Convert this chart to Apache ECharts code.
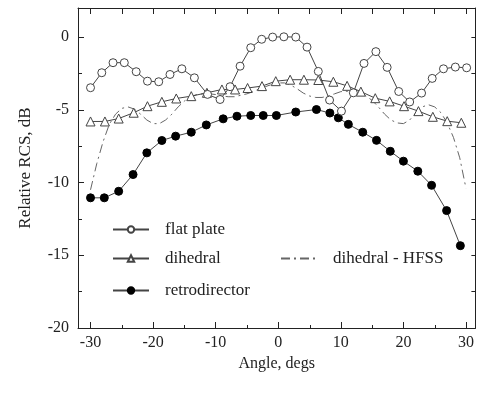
<!DOCTYPE html>
<html>
<head>
<meta charset="utf-8">
<script src="https://cdn.jsdelivr.net/npm/echarts@6/dist/echarts.min.js"></script>
<style>
html, body { margin: 0; padding: 0; background: #fff; }
#chart { width: 477px; height: 397px; }
</style>
</head>
<body>
<div id="chart"></div>
<script>
// flat plate (open circles)
var plateAngle = [-30, -28.2, -26.4, -24.6, -22.7, -20.9, -19.1, -17.3, -15.4, -13.4, -11.3, -9.3, -7.7, -6.1, -4.4, -2.65, -0.9,
	0.9, 2.8, 4.6, 6.4, 8.2, 10.1, 12.0, 13.7, 15.6, 17.4, 19.25, 21.0, 22.9, 24.6, 26.4, 28.3, 30.1];
var plateRcs = [-3.48, -2.45, -1.76, -1.76, -2.38, -3.03, -3.07, -2.57, -2.18, -2.8, -3.94, -4.29, -3.41, -2.0, -0.73, -0.15, 0,
	0.02, 0, -0.69, -2.36, -4.33, -5.09, -3.83, -1.81, -1.0, -2.08, -3.74, -4.46, -3.85, -2.84, -2.18, -2.06, -2.11];

// dihedral (open triangles)
var dihedralAngle = [-30, -27.7, -25.5, -23.1, -20.9, -18.6, -16.3, -13.9, -11.4, -9.0, -6.9, -4.9, -2.6, -0.4,
	1.9, 4.1, 6.4, 8.8, 11.0, 13.2, 15.5, 17.8, 20.1, 22.4, 24.7, 27.0, 29.25];
var dihedralRcs = [-5.8, -5.8, -5.6, -5.2, -4.75, -4.45, -4.22, -4.06, -3.83, -3.6, -3.6, -3.5, -3.37, -3.03,
	-2.93, -2.93, -2.95, -3.07, -3.35, -3.75, -4.2, -4.42, -4.75, -5.09, -5.48, -5.78, -5.89];

// dihedral - HFSS (dash-dot, no markers)
var hfssAngle = [-30, -29, -28, -27, -26, -25, -24, -23, -22, -21, -20, -19, -18, -17, -16, -15, -14, -13, -12, -11, -10,
	-9, -8, -7, -6, -5, -4, -3, -2, -1, 0, 1, 2, 3, 4, 5, 6, 7, 8, 9, 10,
	11, 12, 13, 14, 15, 16, 17, 18, 19, 20, 21, 22, 23, 24, 25, 26, 27, 28, 29, 30];
var hfssRcs = [-10.5, -8.7, -7.2, -6.0, -5.3, -4.9, -4.8, -4.95, -5.3, -5.7, -5.95, -5.95, -5.7, -5.3, -4.8, -4.4, -4.1, -3.95, -3.9, -3.9, -3.95,
	-4.05, -4.1, -4.1, -4.0, -3.9, -3.75, -3.55, -3.4, -3.25, -3.15, -3.15, -3.3, -3.55, -3.85, -4.05, -4.15, -4.15, -4.05, -3.9, -3.75,
	-3.72, -3.8, -3.9, -4.05, -4.35, -4.8, -5.3, -5.7, -5.9, -5.95, -5.7, -5.2, -4.8, -4.65, -4.8, -5.2, -5.9, -6.9, -8.3, -10.4];

// retrodirector (filled circles)
var retroAngle = [-30, -27.8, -25.5, -23.2, -21.0, -18.6, -16.4, -13.9, -11.5, -8.8, -6.6, -4.4, -2.4, -0.3,
	2.8, 6.1, 8.25, 9.6, 11.2, 13.5, 15.7, 17.9, 20.0, 22.3, 24.5, 26.9, 29.1];
var retroRcs = [-11.05, -11.05, -10.6, -9.45, -7.96, -7.11, -6.81, -6.54, -6.04, -5.62, -5.44, -5.39, -5.39, -5.39,
	-5.15, -4.98, -5.22, -5.55, -6.0, -6.54, -7.1, -7.85, -8.53, -9.22, -10.19, -11.93, -14.34];

// tick labels
var xMajorTicks = [-30, -20, -10, 0, 10, 20, 30];
var xMinorTicks = [-25, -15, -5, 5, 15, 25];
var yMajorTicks = [-20, -15, -10, -5, 0];
var yMinorTicks = [-17.5, -12.5, -7.5, -2.5];

var X_MIN = -32, X_MAX = 31.5, Y_MIN = -20, Y_MAX = 2;
var FONT = 'Liberation Serif';
var INK = '#222';
var LINE = '#444';

function pairs(xs, ys){
	var out = [];
	for(var i = 0; i < xs.length; i++){
		out.push([xs[i], ys[i]]);
	}
	return out;
}

var myChart = echarts.init(document.getElementById('chart'), null, {renderer: 'canvas'});

var gridBox = {left: 78, right: 1, top: 8, bottom: 69};

function legendAt(name, left, top, hideSymbol){
	var lg = {
		data: [name],
		left: left, top: top,
		orient: 'horizontal',
		padding: 0,
		itemWidth: 36, itemHeight: 8,
		textStyle: {fontFamily: FONT, fontSize: 17, color: INK, padding: [0, 0, 0, 11]},
		selectedMode: false
	};
	// the dash-dot line has no marker, so hide the legend symbol
	if(hideSymbol){
		lg.itemStyle = {color: 'rgba(0,0,0,0)', borderColor: 'rgba(0,0,0,0)', borderWidth: 0};
	}
	return lg;
}

var option = {
	animation: false,
	backgroundColor: '#fff',
	grid: [
		Object.assign({}, gridBox),
		Object.assign({}, gridBox)
	],
	legend: [
		legendAt('flat plate', 112, 221),
		legendAt('dihedral', 112, 250),
		legendAt('dihedral - HFSS', 280, 250, true),
		legendAt('retrodirector', 112, 282)
	],
	xAxis: [
		{
			type: 'value', gridIndex: 0, position: 'bottom', min: X_MIN, max: X_MAX,
			name: 'Angle, degs', nameLocation: 'middle', nameGap: 19,
			nameTextStyle: {fontFamily: FONT, fontSize: 16, color: INK},
			axisLine: {show: true, onZero: false, lineStyle: {color: INK, width: 1}},
			axisTick: {show: true, inside: true, length: 6, customValues: xMajorTicks, lineStyle: {color: INK}},
			axisLabel: {customValues: xMajorTicks, fontFamily: FONT, fontSize: 16, color: INK, margin: 7},
			splitLine: {show: false}
		},
		{
			type: 'value', gridIndex: 0, position: 'top', min: X_MIN, max: X_MAX,
			axisLine: {show: true, onZero: false, lineStyle: {color: INK, width: 1}},
			axisTick: {show: true, inside: true, length: 6, customValues: xMajorTicks.concat(xMinorTicks), lineStyle: {color: INK}},
			axisLabel: {show: false},
			splitLine: {show: false}
		},
		{
			type: 'value', gridIndex: 1, position: 'bottom', min: X_MIN, max: X_MAX,
			axisLine: {show: false, onZero: false},
			axisTick: {show: true, inside: true, length: 3, customValues: xMinorTicks, lineStyle: {color: INK}},
			axisLabel: {show: false},
			splitLine: {show: false}
		}
	],
	yAxis: [
		{
			type: 'value', gridIndex: 0, position: 'left', min: Y_MIN, max: Y_MAX,
			name: 'Relative RCS, dB', nameLocation: 'middle', nameGap: 44, nameRotate: 90,
			nameTextStyle: {fontFamily: FONT, fontSize: 17, color: INK},
			axisLine: {show: true, onZero: false, lineStyle: {color: INK, width: 1}},
			axisTick: {show: true, inside: true, length: 6, customValues: yMajorTicks, lineStyle: {color: INK}},
			axisLabel: {customValues: yMajorTicks, fontFamily: FONT, fontSize: 16, color: INK, margin: 9},
			splitLine: {show: false}
		},
		{
			type: 'value', gridIndex: 0, position: 'right', min: Y_MIN, max: Y_MAX,
			axisLine: {show: true, onZero: false, lineStyle: {color: INK, width: 1}},
			axisTick: {show: true, inside: true, length: 4, customValues: yMajorTicks.concat(yMinorTicks), lineStyle: {color: INK}},
			axisLabel: {show: false},
			splitLine: {show: false}
		},
		{
			type: 'value', gridIndex: 1, position: 'left', min: Y_MIN, max: Y_MAX,
			axisLine: {show: false, onZero: false},
			axisTick: {show: true, inside: true, length: 4, customValues: yMinorTicks, lineStyle: {color: INK}},
			axisLabel: {show: false},
			splitLine: {show: false}
		}
	],
	series: [
		{
			name: 'dihedral - HFSS', type: 'line', xAxisIndex: 0, yAxisIndex: 0,
			data: pairs(hfssAngle, hfssRcs),
			showSymbol: false, symbol: 'none',
			lineStyle: {color: '#666', width: 1, type: [9, 4, 2, 4]},
			itemStyle: {color: '#666'},
			z: 1
		},
		{
			name: 'retrodirector', type: 'line', xAxisIndex: 0, yAxisIndex: 0,
			data: pairs(retroAngle, retroRcs),
			symbol: 'circle', symbolSize: 8,
			lineStyle: {color: LINE, width: 1},
			itemStyle: {color: '#000', borderColor: '#000', borderWidth: 1},
			z: 2
		},
		{
			name: 'dihedral', type: 'line', xAxisIndex: 0, yAxisIndex: 0,
			data: pairs(dihedralAngle, dihedralRcs),
			symbol: 'triangle', symbolSize: 9,
			lineStyle: {color: LINE, width: 1},
			itemStyle: {color: '#fff', borderColor: LINE, borderWidth: 1},
			z: 3
		},
		{
			name: 'flat plate', type: 'line', xAxisIndex: 0, yAxisIndex: 0,
			data: pairs(plateAngle, plateRcs),
			symbol: 'circle', symbolSize: 8,
			lineStyle: {color: LINE, width: 1},
			itemStyle: {color: '#fff', borderColor: LINE, borderWidth: 1},
			z: 4
		}
	]
};

myChart.setOption(option);
</script>
</body>
</html>
